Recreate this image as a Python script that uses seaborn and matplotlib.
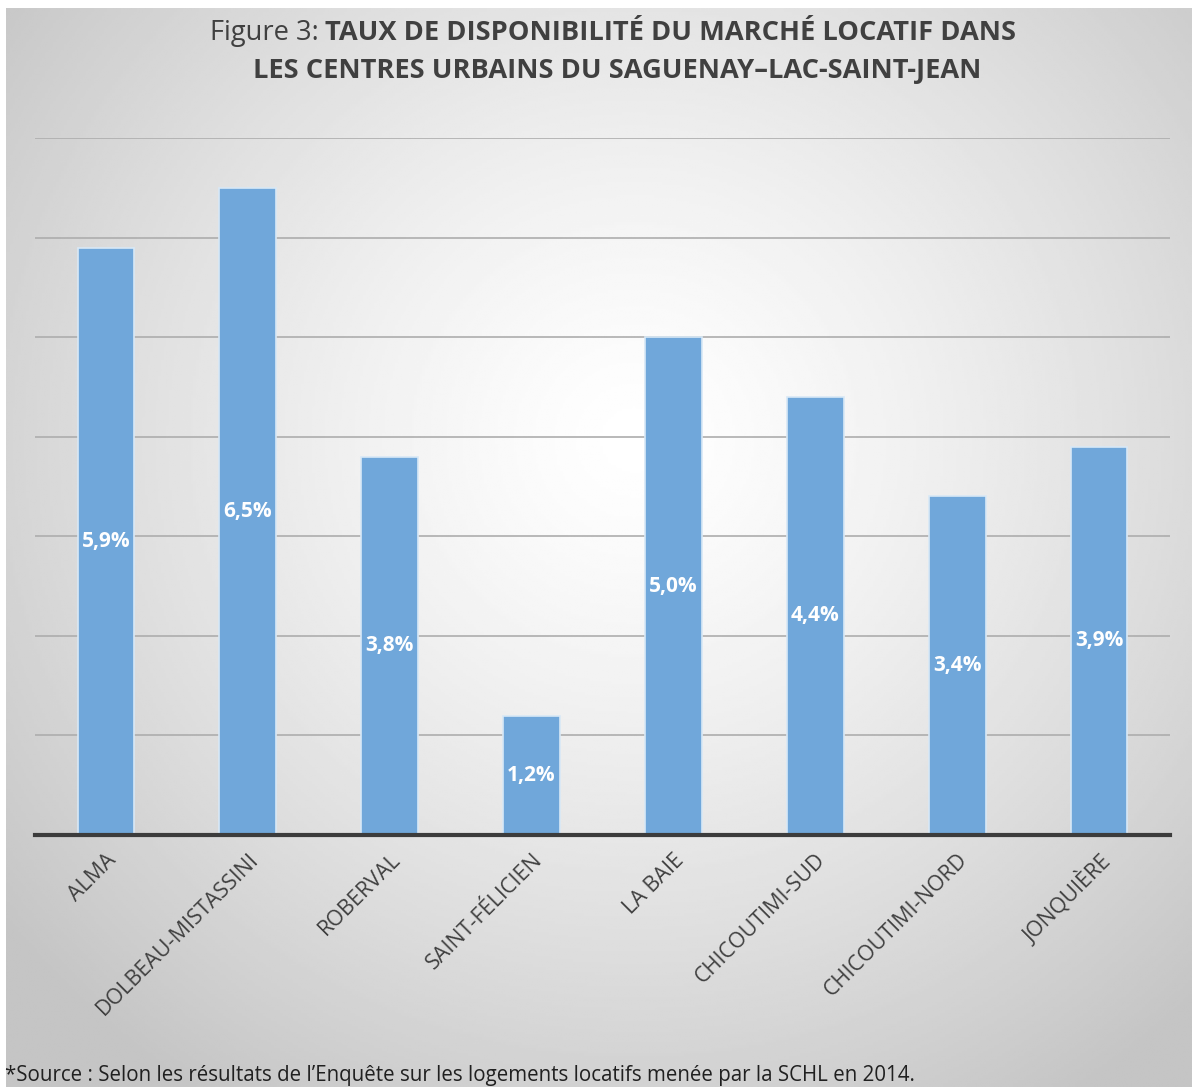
import numpy as np
import pandas as pd
import matplotlib
matplotlib.use('Agg')
import matplotlib.pyplot as plt
import seaborn as sns

# données
centres = ['ALMA', 'DOLBEAU-MISTASSINI', 'ROBERVAL', 'SAINT-FÉLICIEN',
           'LA BAIE', 'CHICOUTIMI-SUD', 'CHICOUTIMI-NORD', 'JONQUIÈRE']
taux = [5.9, 6.5, 3.8, 1.2, 5.0, 4.4, 3.4, 3.9]
etiquettes = ['5,9%', '6,5%', '3,8%', '1,2%', '5,0%', '4,4%', '3,4%', '3,9%']

df = pd.DataFrame({'Centre': centres, 'Taux': taux})

sns.set_style('white')
plt.rcParams['font.family'] = ['Open Sans', 'DejaVu Sans']

fig = plt.figure(figsize=(11.92, 10.87), dpi=100)
fig.patch.set_facecolor('white')

# fond en dégradé radial
bg = fig.add_axes([6 / 1192, 0, 1 - 6 / 1192, 1 - 8 / 1087], zorder=0)
yy, xx = np.mgrid[0:1:400j, 0:1:440j]
d = np.sqrt(((xx - 0.53) / 0.75) ** 2 + ((yy - 0.40) / 0.8) ** 2)
g = np.clip(1 - 0.26 * d ** 1.3, 0.77, 1)
bg.imshow(g, cmap='gray', vmin=0, vmax=1, aspect='auto', extent=[0, 1, 1, 0])
bg.axis('off')

ax = fig.add_axes([35 / 1192, 1 - 835 / 1087, (1170 - 35) / 1192, (835 - 138) / 1087], zorder=1)
ax.patch.set_alpha(0)
sns.barplot(data=df, x='Centre', y='Taux', color='#70a7da', saturation=1,
            width=0.4, edgecolor='#d8e8f6', linewidth=1.2, ax=ax, zorder=3)

ax.set_ylim(0, 7)
ax.set_yticks(range(1, 8))
ax.yaxis.grid(True, color='#adadad', linewidth=1.2, zorder=0)
ax.set_axisbelow(True)
ax.tick_params(axis='y', left=False, labelleft=False)
ax.tick_params(axis='x', bottom=False, pad=7)
for s in ['top', 'right', 'left']:
    ax.spines[s].set_visible(False)
ax.spines['bottom'].set_color('#3c3c3c')
ax.spines['bottom'].set_linewidth(3)
ax.spines['bottom'].set_zorder(4)
ax.set_xlabel('')
ax.set_ylabel('')
ax.set_xticks(range(len(centres)))
ax.set_xticklabels(centres, rotation=45, ha='right', rotation_mode='anchor',
                   fontsize=15.5, color='#404040')

for i, (v, lab) in enumerate(zip(taux, etiquettes)):
    ax.text(i, v / 2, lab, ha='center', va='center', color='white',
            fontsize=15, fontweight='bold', zorder=5)

# titre
ty = 1 - 33 / 1087
t1 = fig.text(0.5, ty, 'Figure 3: ', ha='right', va='center',
              fontsize=19.6, color='#404040')
fig.canvas.draw()
t2 = fig.text(0, 0, 'TAUX DE DISPONIBILITÉ DU MARCHÉ LOCATIF DANS', ha='left',
              va='center', fontsize=19.6, fontweight='bold', color='#404040')
r = fig.canvas.get_renderer()
w1 = t1.get_window_extent(r).width / fig.bbox.width
w2 = t2.get_window_extent(r).width / fig.bbox.width
x0 = 613 / 1192 - (w1 + w2) / 2
t1.set_ha('left')
t1.set_position((x0, ty))
t2.set_position((x0 + w1, ty))
fig.text(617 / 1192, 1 - 71 / 1087, 'LES CENTRES URBAINS DU SAGUENAY–LAC-SAINT-JEAN',
         ha='center', va='center', fontsize=19.6, fontweight='bold', color='#404040')

fig.text(5 / 1192, 1 - 1076 / 1087, '*Source : Selon les résultats de l’Enquête sur les logements locatifs menée par la SCHL en 2014.',
         ha='left', va='center', fontsize=14.8, color='#202020')

fig.savefig('out.png', dpi=100)
